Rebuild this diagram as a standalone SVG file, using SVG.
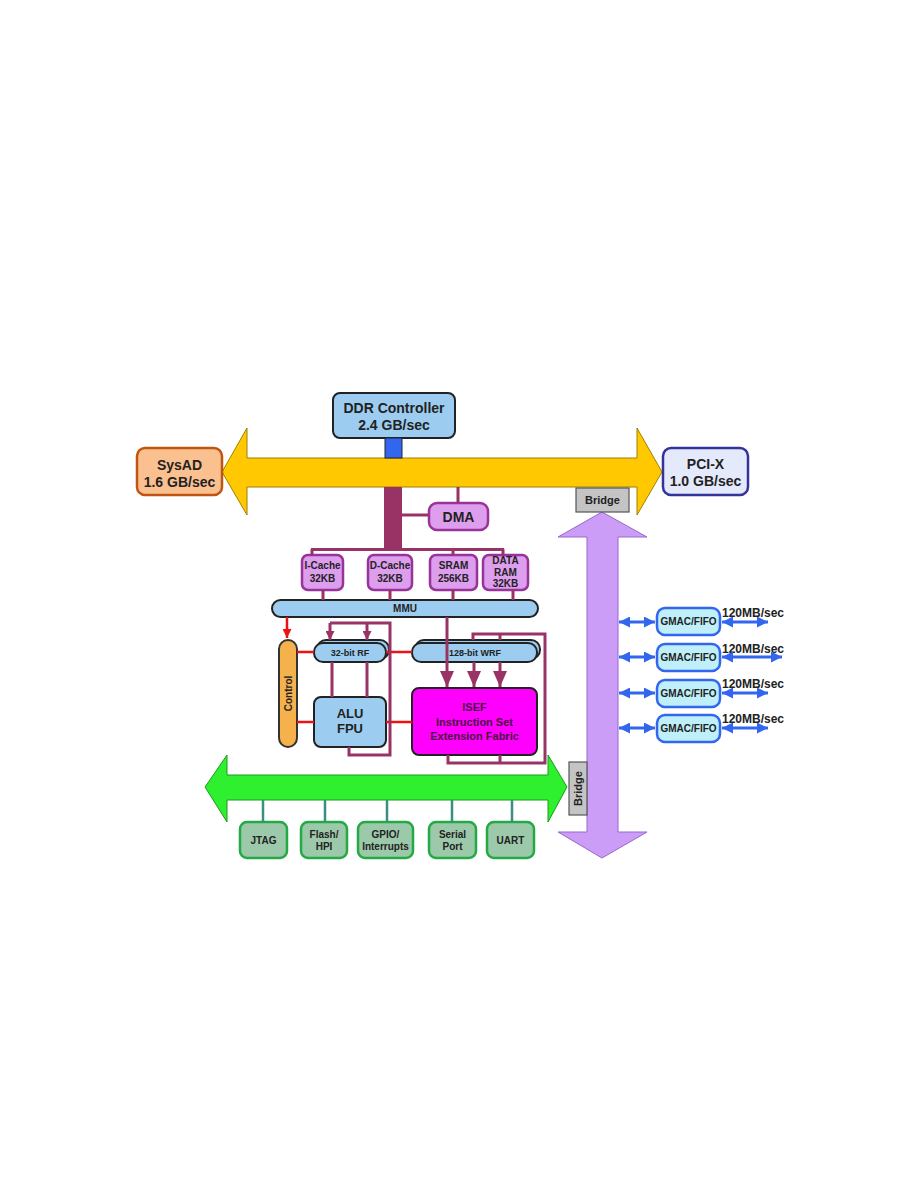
<svg xmlns="http://www.w3.org/2000/svg" width="918" height="1188" viewBox="0 0 918 1188">
<style>
text{font-family:"Liberation Sans",Arial,sans-serif;font-weight:bold;text-anchor:middle;fill:#222}
.bus{stroke-width:1}
.mem{fill:#dd9eee;stroke:#993399;stroke-width:2.5}
.cpu{fill:#9ccdf0;stroke:#222;stroke-width:2}
.per{fill:#9dc9ab;stroke:#22aa44;stroke-width:2.5}
.gmac{fill:#bff0fa;stroke:#3366ee;stroke-width:2.5}
.br{fill:#c4c4c4;stroke:#555;stroke-width:1.2}
.bg{stroke:#993366;stroke-width:3;fill:none}
.red{stroke:#ee1111;stroke-width:2.5;fill:none}
.teal{stroke:#3a8f80;stroke-width:2.5;fill:none}
.blu{stroke:#3366ee;stroke-width:3;fill:none}
.t10{font-size:10px}
.t14{font-size:14px}
</style>
<defs>
<marker id="big" viewBox="0 0 16 14" refX="16" refY="7" markerWidth="16" markerHeight="14" markerUnits="userSpaceOnUse" orient="auto"><path d="M0,0L16,7L0,14z" fill="#993366"/></marker>
<marker id="sm" viewBox="0 0 10 10" refX="10" refY="5" markerWidth="9" markerHeight="9" markerUnits="userSpaceOnUse" orient="auto"><path d="M0,0L10,5L0,10z" fill="#993366"/></marker>
<marker id="rd" viewBox="0 0 10 10" refX="10" refY="5" markerWidth="9" markerHeight="9" markerUnits="userSpaceOnUse" orient="auto"><path d="M0,0L10,5L0,10z" fill="#ee1111"/></marker>
<marker id="bl" viewBox="0 0 10 10" refX="10" refY="5" markerWidth="12" markerHeight="11" markerUnits="userSpaceOnUse" orient="auto-start-reverse"><path d="M0,0L10,5L0,10z" fill="#3366ee"/></marker>
</defs>

<g id="buses">
<polygon id="sys-bus" class="bus" points="222,472 247,428 247,458 637,458 637,428 662,472 637,515 637,487 247,487 247,515" fill="#ffc800" stroke="#a08000"/>
<polygon id="pci-bus" class="bus" points="602,512 647,537 618,537 618,832 647,832 602,858 558,832 587,832 587,537 558,537" fill="#cc9df6" stroke="#9966cc"/>
<polygon id="periph-bus" class="bus" points="205,787 227,755 227,775 548,775 548,755 567,787 548,822 548,800 227,800 227,822" fill="#2ef02e" stroke="#1a9a1a"/>
</g>

<g id="ddr"><rect x="333" y="393" width="122" height="45" rx="7" class="cpu"/><text x="394" y="413" class="t14">DDR Controller</text><text x="394" y="430" class="t14">2.4 GB/sec</text></g>
<g id="sysad"><rect x="137" y="448" width="85" height="47" rx="8" fill="#fbc08f" stroke="#c05511" stroke-width="2.5"/><text x="179.5" y="470" class="t14">SysAD</text><text x="179.5" y="487" class="t14">1.6 GB/sec</text></g>
<g id="pcix"><rect x="663" y="448" width="85" height="47" rx="8" fill="#e4e9fb" stroke="#333399" stroke-width="2.5"/><text x="705.5" y="469" class="t14">PCI-X</text><text x="705.5" y="486" class="t14">1.0 GB/sec</text></g>
<g id="bridge-top"><rect x="576" y="488" width="53" height="24" class="br"/><text x="602.5" y="504" font-size="11">Bridge</text></g>
<g id="bridge-bottom"><rect x="569" y="762" width="18" height="53" class="br"/><text transform="translate(582,788.5) rotate(-90)" font-size="11">Bridge</text></g>

<g id="dma"><rect x="429" y="503" width="59" height="27" rx="8" class="mem"/><text x="458.5" y="522" class="t14">DMA</text></g>
<g id="icache"><rect x="302" y="555" width="41" height="35" rx="6" class="mem"/><text x="322.5" y="569" class="t10">I-Cache</text><text x="322.5" y="582" class="t10">32KB</text></g>
<g id="dcache"><rect x="368" y="555" width="44" height="35" rx="6" class="mem"/><text x="390" y="569" class="t10">D-Cache</text><text x="390" y="582" class="t10">32KB</text></g>
<g id="sram"><rect x="430" y="555" width="47" height="35" rx="6" class="mem"/><text x="453.5" y="569" class="t10">SRAM</text><text x="453.5" y="582" class="t10">256KB</text></g>
<g id="dataram"><rect x="483" y="555" width="45" height="35" rx="6" class="mem"/><text x="505.5" y="564" class="t10">DATA</text><text x="505.5" y="575.5" class="t10">RAM</text><text x="505.5" y="587" class="t10">32KB</text></g>
<g id="mmu"><rect x="272" y="600" width="266" height="17" rx="8.5" class="cpu"/><text x="405" y="612" class="t10">MMU</text></g>

<g id="control"><rect x="279" y="640" width="18" height="107" rx="9" fill="#f5b14c" stroke="#333" stroke-width="2"/><text transform="translate(291.5,693.5) rotate(-90)" class="t10">Control</text></g>
<g id="rf"><rect x="317" y="640" width="72" height="19" rx="9" class="cpu"/><rect x="314" y="643" width="72" height="19" rx="9" class="cpu"/><text x="350" y="656" font-size="9">32-bit RF</text></g>
<g id="wrf"><rect x="415" y="640" width="125" height="19" rx="9" class="cpu"/><rect x="412" y="643" width="125" height="19" rx="9" class="cpu"/><text x="475" y="656" font-size="9">128-bit WRF</text></g>
<g id="alu"><rect x="314" y="697" width="72" height="50" rx="7" class="cpu"/><text x="350" y="718" font-size="13">ALU</text><text x="350" y="733" font-size="13">FPU</text></g>
<g id="isef"><rect x="412" y="688" width="125" height="67" rx="7" fill="#ff00ff" stroke="#222" stroke-width="2"/><g fill="#4a1040"><text x="474.5" y="711" font-size="11" style="fill:#4a1040">ISEF</text><text x="474.5" y="726" font-size="11" style="fill:#4a1040">Instruction Set</text><text x="474.5" y="740" font-size="11" style="fill:#4a1040">Extension Fabric</text></g></g>

<g id="gmac1"><rect x="657" y="608" width="63" height="27" rx="8" class="gmac"/><text x="688.5" y="625" class="t10">GMAC/FIFO</text></g>
<g id="gmac2"><rect x="657" y="644" width="63" height="27" rx="8" class="gmac"/><text x="688.5" y="661" class="t10">GMAC/FIFO</text></g>
<g id="gmac3"><rect x="657" y="680" width="63" height="27" rx="8" class="gmac"/><text x="688.5" y="697" class="t10">GMAC/FIFO</text></g>
<g id="gmac4"><rect x="657" y="715" width="63" height="27" rx="8" class="gmac"/><text x="688.5" y="732" class="t10">GMAC/FIFO</text></g>
<g id="rate-labels"><text x="753" y="617" font-size="12">120MB/sec</text><text x="753" y="653" font-size="12">120MB/sec</text><text x="753" y="688" font-size="12">120MB/sec</text><text x="753" y="723" font-size="12">120MB/sec</text></g>

<g id="jtag"><rect x="240" y="822" width="47" height="36" rx="7" class="per"/><text x="263.5" y="844" class="t10">JTAG</text></g>
<g id="flash"><rect x="301" y="822" width="46" height="36" rx="7" class="per"/><text x="324" y="838" class="t10">Flash/</text><text x="324" y="850" class="t10">HPI</text></g>
<g id="gpio"><rect x="358" y="822" width="55" height="36" rx="7" class="per"/><text x="385.5" y="838" class="t10">GPIO/</text><text x="385.5" y="850" class="t10">Interrupts</text></g>
<g id="serial"><rect x="429" y="822" width="47" height="36" rx="7" class="per"/><text x="452.5" y="838" class="t10">Serial</text><text x="452.5" y="850" class="t10">Port</text></g>
<g id="uart"><rect x="487" y="822" width="47" height="36" rx="7" class="per"/><text x="510.5" y="844" class="t10">UART</text></g>

<g id="connectors">
<rect x="385" y="438" width="17" height="20" fill="#3366ee" stroke="#223" stroke-width="1"/>
<rect x="384" y="487" width="18" height="63" fill="#993366"/>
<path class="bg" d="M458,487V503M402,515H429M311,549.5H504M312,549V555M453,549V555M503,549V555M323,590V600M390,590V600M453,590V600M513,590V600"/>
<path class="red" d="M287,617V638" marker-end="url(#rd)"/>
<path class="red" d="M297,652H314M386,652H412M297,722H314M386,722H412"/>
<path class="bg" d="M330,623H390V755H349V747M332,662V697M367,662V697"/>
<path class="bg" d="M330,623V640" marker-end="url(#sm)"/>
<path class="bg" d="M367,623V640" marker-end="url(#sm)"/>
<path class="bg" d="M473,640V634H545V763H448V755M500,640V634M500,755V763"/>
<path class="bg" d="M447,617V687" marker-end="url(#big)"/>
<path class="bg" d="M474,662V687" marker-end="url(#big)"/>
<path class="bg" d="M500,662V687" marker-end="url(#big)"/>
<path class="teal" d="M263,800V822M325,800V822M387,800V822M452,800V822M512,800V822"/>
<path class="blu" d="M619,622H655" marker-start="url(#bl)" marker-end="url(#bl)"/>
<path class="blu" d="M619,657H655" marker-start="url(#bl)" marker-end="url(#bl)"/>
<path class="blu" d="M619,693H655" marker-start="url(#bl)" marker-end="url(#bl)"/>
<path class="blu" d="M619,728H655" marker-start="url(#bl)" marker-end="url(#bl)"/>
<path class="blu" d="M722,622H768" marker-start="url(#bl)" marker-end="url(#bl)"/>
<path class="blu" d="M722,657H782" marker-start="url(#bl)" marker-end="url(#bl)"/>
<path class="blu" d="M722,693H768" marker-start="url(#bl)" marker-end="url(#bl)"/>
<path class="blu" d="M722,728H768" marker-start="url(#bl)" marker-end="url(#bl)"/>
</g>
</svg>
